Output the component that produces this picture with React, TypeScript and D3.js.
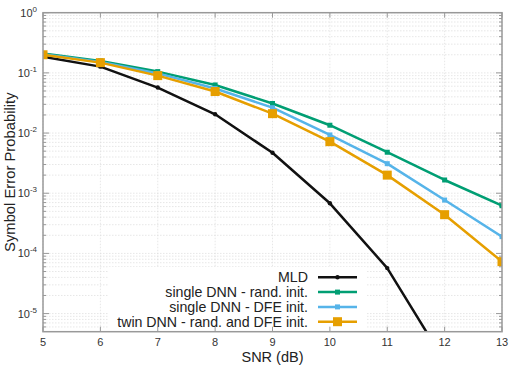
import React from 'react';
import * as d3 from 'd3';

const snr = [5, 6, 7, 8, 9, 10, 11, 12, 13];
const mld = [0.186, 0.127, 0.057, 0.0205, 0.0047, 6.8e-4, 5.7e-5, 1.6e-6, 5e-8];
const singleRand = [0.21, 0.158, 0.105, 0.063, 0.031, 0.0135, 0.0048, 1.66e-3, 6.2e-4];
const singleDfe = [0.205, 0.152, 0.098, 0.055, 0.0264, 0.0093, 0.0031, 7.7e-4, 1.9e-4];
const twinDnn = [0.2, 0.148, 0.09, 0.049, 0.021, 0.0072, 0.002, 4.4e-4, 7.3e-5];

const seriesNames = [
  'MLD',
  'single DNN - rand. init.',
  'single DNN - DFE init.',
  'twin DNN - rand. and DFE init.',
];
const decades = [0, -1, -2, -3, -4, -5];

const W = 520;
const H = 365;
const m = { left: 43, right: 502, top: 12.7, bottom: 331.7 };

const App = () => {
  const x = d3.scaleLinear().domain([5, 13]).range([m.left, m.right]);
  const y = d3.scaleLog().domain([5e-6, 1]).range([m.bottom, m.top]);

  const line = d3
    .line<[number, number]>()
    .x(d => x(d[0]))
    .y(d => y(d[1]));

  const series = [
    { name: seriesNames[0], vals: mld, color: '#111111', marker: 'dot', size: 2.2 },
    { name: seriesNames[1], vals: singleRand, color: '#009e73', marker: 'sq', size: 5 },
    { name: seriesNames[2], vals: singleDfe, color: '#56b4e9', marker: 'sq', size: 5 },
    { name: seriesNames[3], vals: twinDnn, color: '#e69f00', marker: 'sq', size: 9 },
  ];

  // minor ticks positions
  const minor: number[] = [];
  for (let e = -6; e < 0; e++) {
    for (let k = 2; k <= 9; k++) {
      const v = k * Math.pow(10, e);
      if (v >= 5e-6 && v <= 1) minor.push(v);
    }
  }

  const marker = (s: any, cx: number, cy: number, key: string) => {
    if (s.marker === 'dot') {
      return <circle key={key} cx={cx} cy={cy} r={s.size} fill={s.color} />;
    }
    return (
      <rect
        key={key}
        x={cx - s.size / 2}
        y={cy - s.size / 2}
        width={s.size}
        height={s.size}
        fill={s.color}
      />
    );
  };

  const legendX = 357;
  const legendY0 = 277.3;
  const legendDy = 14.8;

  return (
    <svg
      width={W}
      height={H}
      style={{ position: 'absolute', left: 0, top: 0, background: '#fff' }}
      fontFamily="'Liberation Sans', Arial, sans-serif"
    >
      <defs>
        <clipPath id="plotclip">
          <rect x={m.left} y={m.top} width={m.right - m.left} height={m.bottom - m.top} />
        </clipPath>
      </defs>

      {/* grid */}
      <g stroke="#dcdcdc" strokeWidth={0.7} strokeDasharray="1.5,1.5">
        {minor.map((v, i) => (
          <line key={'gm' + i} x1={m.left} x2={m.right} y1={y(v)} y2={y(v)} />
        ))}
        {decades.map(d => (
          <line key={'gd' + d} x1={m.left} x2={m.right} y1={y(Math.pow(10, d))} y2={y(Math.pow(10, d))} />
        ))}
        {snr.map(v => (
          <line key={'gx' + v} x1={x(v)} x2={x(v)} y1={m.top} y2={m.bottom} />
        ))}
      </g>

      {/* legend background */}
      <rect x={108} y={267} width={258} height={63} fill="#fff" />

      {/* ticks */}
      <g stroke="#999" strokeWidth={1}>
        {minor.map((v, i) => (
          <g key={'tm' + i}>
            <line x1={m.left} x2={m.left + 3} y1={y(v)} y2={y(v)} />
            <line x1={m.right} x2={m.right - 3} y1={y(v)} y2={y(v)} />
          </g>
        ))}
        {decades.map(d => (
          <g key={'td' + d}>
            <line x1={m.left} x2={m.left + 6} y1={y(Math.pow(10, d))} y2={y(Math.pow(10, d))} />
            <line x1={m.right} x2={m.right - 6} y1={y(Math.pow(10, d))} y2={y(Math.pow(10, d))} />
          </g>
        ))}
        {snr.map(v => (
          <g key={'tx' + v}>
            <line x1={x(v)} x2={x(v)} y1={m.bottom} y2={m.bottom - 5} />
            <line x1={x(v)} x2={x(v)} y1={m.top} y2={m.top + 5} />
          </g>
        ))}
      </g>

      {/* series */}
      <g clipPath="url(#plotclip)">
        {series.map((s, si) => {
          const pts = snr.map((v, i) => [v, s.vals[i]] as [number, number]);
          return (
            <g key={'s' + si}>
              <path d={line(pts) || ''} fill="none" stroke={s.color} strokeWidth={2.5} strokeLinejoin="round" />
              {pts.map((p, i) => marker(s, x(p[0]), y(p[1]), 'm' + si + '-' + i))}
            </g>
          );
        })}
      </g>

      {/* frame */}
      <rect
        x={m.left}
        y={m.top}
        width={m.right - m.left}
        height={m.bottom - m.top}
        fill="none"
        stroke="#999"
        strokeWidth={1.5}
      />

      {/* y tick labels */}
      <g fontSize={11} fill="#333" textAnchor="end">
        {decades.map(d => (
          <text key={'yl' + d} x={m.left - 6} y={y(Math.pow(10, d)) + 4}>
            10
            <tspan dy={-5} fontSize={8}>{d === 0 ? '0' : String(d)}</tspan>
          </text>
        ))}
      </g>

      {/* x tick labels */}
      <g fontSize={11} fill="#333" textAnchor="middle">
        {snr.map(v => (
          <text key={'xl' + v} x={x(v)} y={m.bottom + 14.5}>
            {v}
          </text>
        ))}
      </g>

      {/* axis titles */}
      <text x={(m.left + m.right) / 2} y={362} textAnchor="middle" fontSize={14.5} fill="#222">
        SNR (dB)
      </text>
      <text
        transform={`translate(15,${(m.top + m.bottom) / 2}) rotate(-90)`}
        textAnchor="middle"
        fontSize={14.8}
        fill="#222"
      >
        Symbol Error Probability
      </text>

      {/* legend */}
      <g fontSize={14.2} fill="#222">
        {series.map((s, i) => {
          const ly = legendY0 + i * legendDy;
          return (
            <g key={'lg' + i}>
              <text x={legendX - 49} y={ly + 5} textAnchor="end">
                {s.name}
              </text>
              <line x1={legendX - 39} x2={legendX} y1={ly} y2={ly} stroke={s.color} strokeWidth={2.5} />
              {marker(s, legendX - 19.5, ly, 'lm' + i)}
            </g>
          );
        })}
      </g>
    </svg>
  );
};

export default App;
